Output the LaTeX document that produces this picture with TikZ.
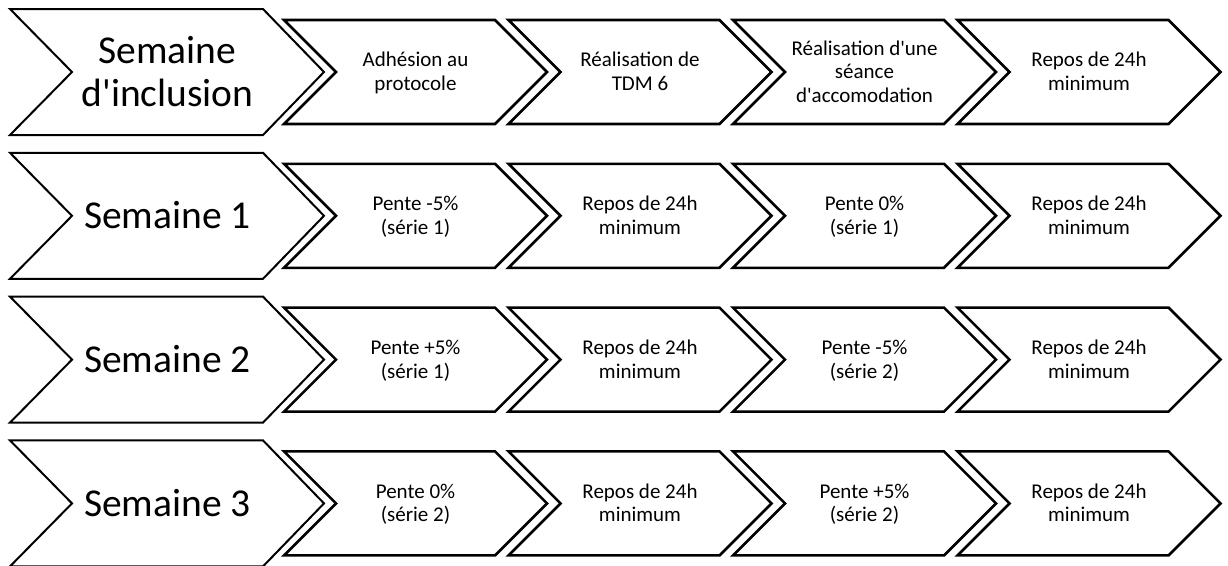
\documentclass[tikz,border=0pt]{standalone}
\usepackage{fontspec}
\setmainfont{Carlito}
\newcommand{\ap}{\textquotesingle}
\newcommand{\lin}[1]{\strut #1}
\begin{document}
\begin{tikzpicture}[x=1pt,y=-1pt,
  bigtext/.style={align=center,inner sep=0pt,font=\fontsize{39.5}{43}\selectfont},
  smalltext/.style={align=center,inner sep=0pt,font=\fontsize{21}{23.5}\selectfont},
  bigline/.style={draw=black,line width=2pt,line join=miter},
  smallline/.style={draw=black,line width=2.6pt,line join=miter}]
\useasboundingbox (0,0) rectangle (1228,565);
\newcommand{\bigchev}[2]{%
  \draw[bigline] (#1,#2-63) -- ++(253,0) -- ++(61,63) -- ++(-61,63) -- ++(-253,0) -- ++(62,-63) -- cycle;}
\newcommand{\smallchev}[2]{%
  \draw[smallline] (#1,#2-52) -- ++(211,0) -- ++(52,52) -- ++(-52,52) -- ++(-211,0) -- ++(52,-52) -- cycle;}
\foreach \c in {72,215.8,359.6,503.4}{
  \bigchev{10}{\c}
  \foreach \x in {284,508.5,733,957.5}{\smallchev{\x}{\c}}
}
% row 1
\node[bigtext] (w0) at (167.5,76) {\lin{Semaine}\\\lin{d\ap inclusion}};
\node[smalltext] (a1) at (415.5,74) {\lin{Adhésion au}\\\lin{protocole}};
\node[smalltext] (a2) at (640,74) {\lin{Réalisation de}\\\lin{TDM 6}};
\node[smalltext] (a3) at (864.5,74) {\lin{Réalisation d\ap une}\\\lin{séance}\\\lin{d\ap accomodation}};
\node[smalltext] (a4) at (1089,74) {\lin{Repos de 24h}\\\lin{minimum}};
% row 2
\node[bigtext] (w1) at (167.5,219.8) {\lin{Semaine 1}};
\node[smalltext] (b1) at (415.5,217.8) {\lin{Pente -5\%}\\\lin{(série 1)}};
\node[smalltext] (b2) at (640,217.8) {\lin{Repos de 24h}\\\lin{minimum}};
\node[smalltext] (b3) at (864.5,217.8) {\lin{Pente 0\%}\\\lin{(série 1)}};
\node[smalltext] (b4) at (1089,217.8) {\lin{Repos de 24h}\\\lin{minimum}};
% row 3
\node[bigtext] (w2) at (167.5,363.6) {\lin{Semaine 2}};
\node[smalltext] (c1) at (415.5,361.6) {\lin{Pente +5\%}\\\lin{(série 1)}};
\node[smalltext] (c2) at (640,361.6) {\lin{Repos de 24h}\\\lin{minimum}};
\node[smalltext] (c3) at (864.5,361.6) {\lin{Pente -5\%}\\\lin{(série 2)}};
\node[smalltext] (c4) at (1089,361.6) {\lin{Repos de 24h}\\\lin{minimum}};
% row 4
\node[bigtext] (w3) at (167.5,507.4) {\lin{Semaine 3}};
\node[smalltext] (d1) at (415.5,505.4) {\lin{Pente 0\%}\\\lin{(série 2)}};
\node[smalltext] (d2) at (640,505.4) {\lin{Repos de 24h}\\\lin{minimum}};
\node[smalltext] (d3) at (864.5,505.4) {\lin{Pente +5\%}\\\lin{(série 2)}};
\node[smalltext] (d4) at (1089,505.4) {\lin{Repos de 24h}\\\lin{minimum}};
\end{tikzpicture}
\end{document}
